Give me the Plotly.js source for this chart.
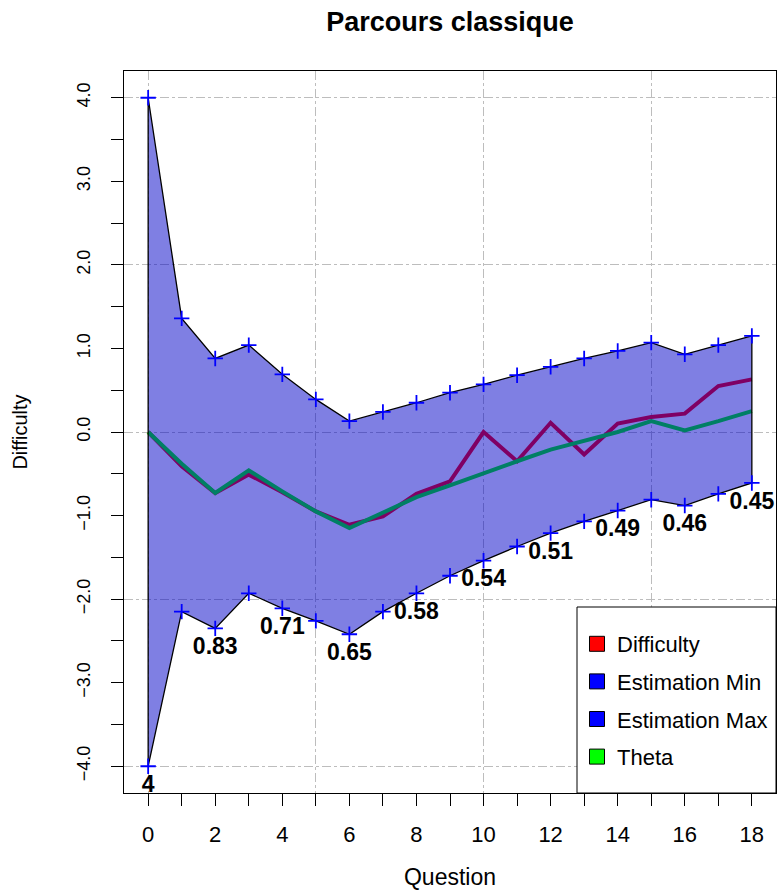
<!DOCTYPE html>
<html>
<head>
<meta charset="utf-8">
<script src="https://cdn.plot.ly/plotly-3.0.1.min.js"></script>
<style>html,body{margin:0;padding:0;background:#fff;}#chart{width:779px;height:890px;}</style>
</head>
<body>
<div id="chart"></div>
<script>
// ---- data ----
const questions = [0,1,2,3,4,5,6,7,8,9,10,11,12,13,14,15,16,17,18];
const estimationMax = [4.0,1.36,0.88,1.04,0.69,0.39,0.13,0.24,0.35,0.47,0.57,0.68,0.78,0.88,0.97,1.07,0.93,1.04,1.15];
const estimationMin = [-4.0,-2.15,-2.35,-1.93,-2.11,-2.26,-2.42,-2.15,-1.93,-1.72,-1.54,-1.37,-1.21,-1.07,-0.94,-0.81,-0.88,-0.74,-0.61];
const difficulty = [0,-0.41,-0.73,-0.51,-0.72,-0.95,-1.11,-1.01,-0.74,-0.59,0.0,-0.35,0.11,-0.27,0.10,0.18,0.22,0.55,0.63];
const theta = [0,-0.38,-0.73,-0.46,-0.71,-0.95,-1.15,-0.96,-0.78,-0.64,-0.49,-0.35,-0.21,-0.10,0.0,0.13,0.02,0.13,0.25];
const labelQuestions = [0,2,4,6,8,10,12,14,16,18];
const labelTexts = ["4","0.83","0.71","0.65","0.58","0.54","0.51","0.49","0.46","0.45"];
const legendNames = ["Difficulty","Estimation Min","Estimation Max","Theta"];
const legendColors = ["#ff0000","#0000ff","#0000ff","#00ff00"];

const FONT = "Liberation Sans, Arial, Helvetica, sans-serif";

// polygon between max and min
const polyX = questions.concat(questions.slice().reverse(), [questions[0]]);
const polyY = estimationMax.concat(estimationMin.slice().reverse(), [estimationMax[0]]);

const labelY = labelQuestions.map(q => estimationMin[questions.indexOf(q)]);

const crossMarker = {symbol: 'cross-thin', size: 11, color: '#0000ff', line: {color: '#0000ff', width: 1.8}};

const traces = [
  {x: questions, y: difficulty, mode: 'lines', line: {color: '#ff0000', width: 4}, showlegend: false, hoverinfo: 'skip'},
  {x: questions, y: theta, mode: 'lines', line: {color: '#00ff00', width: 4}, showlegend: false, hoverinfo: 'skip'},
  {x: polyX, y: polyY, mode: 'lines', fill: 'toself', fillcolor: 'rgba(0,0,200,0.5)', line: {color: '#000000', width: 1.3}, showlegend: false, hoverinfo: 'skip'},
  {x: questions, y: estimationMax, mode: 'markers', marker: crossMarker, showlegend: false, cliponaxis: false},
  {x: questions, y: estimationMin, mode: 'markers', marker: crossMarker, showlegend: false, cliponaxis: false},
  {x: labelQuestions, y: labelY, mode: 'markers+text', text: labelTexts, textposition: 'bottom center',
   marker: {size: 12, opacity: 0}, textfont: {family: FONT, size: 23, color: '#000', weight: 'bold'}, showlegend: false, cliponaxis: false, hoverinfo: 'skip'}
];
legendNames.forEach((n, i) => {
  traces.push({x: [null], y: [null], name: n, mode: 'markers', legendgroup: 'g' + i,
    marker: {symbol: 'square', size: 15, color: legendColors[i], line: {color: '#000', width: 1}}});
});
traces.push({x: [null], y: [null], xaxis: 'x2', yaxis: 'y2', mode: 'markers', showlegend: false});

const gridStyle = {showgrid: true, gridcolor: '#bdbdbd', gridwidth: 1, griddash: 'dashdot', showticklabels: false, ticks: '', showline: false, zeroline: false};

const legendLeft = (577 - 124) / 652;

const layout = {
  width: 779, height: 890,
  margin: {l: 124, r: 3, t: 71, b: 97},
  paper_bgcolor: '#fff', plot_bgcolor: '#fff',
  font: {family: FONT, color: '#000'},
  title: {text: '<b>Parcours classique</b>', font: {family: FONT, size: 27, color: '#000'},
          xref: 'paper', x: 0.5, xanchor: 'center', yref: 'container', y: 1 - 22/890, yanchor: 'middle'},
  xaxis: {range: [-0.72, 18.72], tickmode: 'linear', tick0: 0, dtick: 2, ticks: 'outside', ticklen: 12, tickcolor: '#000',
          minor: {tickmode: 'linear', tick0: 0, dtick: 1, ticks: 'outside', ticklen: 12, tickcolor: '#000', showgrid: false},
          showgrid: false, zeroline: false, showline: true, mirror: true, linecolor: '#000', linewidth: 1,
          tickfont: {family: FONT, size: 22, color: '#000'}, ticklabelstandoff: 10,
          title: {text: 'Question', font: {family: FONT, size: 23, color: '#000'}, standoff: 26}},
  yaxis: {range: [-4.32, 4.32], tickmode: 'linear', tick0: 0, dtick: 1, tickformat: '.1f', tickangle: -90,
          ticks: 'outside', ticklen: 12, tickcolor: '#000',
          minor: {tickmode: 'linear', tick0: 0, dtick: 0.5, ticks: 'outside', ticklen: 12, tickcolor: '#000', showgrid: false},
          showgrid: false, zeroline: false, showline: true, mirror: true, linecolor: '#000', linewidth: 1,
          tickfont: {family: FONT, size: 18, color: '#000'}, ticklabelstandoff: 14,
          title: {text: 'Difficulty', font: {family: FONT, size: 20, color: '#000'}, standoff: 40}},
  xaxis2: Object.assign({overlaying: 'x', range: [-0.72, 18.72], tickmode: 'linear', tick0: 0, dtick: 5, side: 'bottom'}, gridStyle),
  yaxis2: Object.assign({overlaying: 'y', range: [-4.32, 4.32], tickmode: 'linear', tick0: 0, dtick: 2, side: 'left'}, gridStyle),
  shapes: [
    {type: 'rect', xref: 'paper', yref: 'paper', x0: legendLeft, x1: 1, y0: 0, y1: (793 - 607) / 722,
     layer: 'above', fillcolor: '#fff', line: {color: '#000', width: 1}}
  ],
  legend: {x: legendLeft, xanchor: 'left', y: (793 - 623) / 722, yanchor: 'top', bgcolor: 'rgba(0,0,0,0)', borderwidth: 0,
           font: {family: FONT, size: 22, color: '#000'}, tracegroupgap: 6, traceorder: 'grouped'},
  showlegend: true
};

Plotly.newPlot('chart', traces, layout, {displayModeBar: false, staticPlot: true});
</script>
</body>
</html>
